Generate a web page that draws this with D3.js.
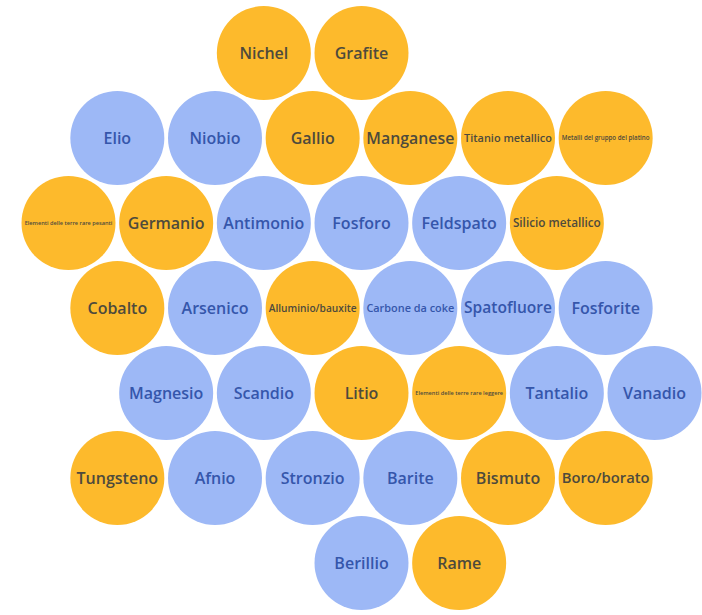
<!DOCTYPE html>
<html>
<head>
<meta charset="utf-8">
<script src="https://cdn.jsdelivr.net/npm/d3@7"></script>
<style>
  html, body { margin: 0; padding: 0; background: #fff; }
  text { font-family: "Open Sans", "Noto Sans", sans-serif; font-weight: 600; }
</style>
</head>
<body>
<div id="chart"></div>
<script>
// materials, their group and their cell in the honeycomb (row, half-column)
var materials = [
  "Nichel", "Grafite",
  "Elio", "Niobio", "Gallio", "Manganese", "Titanio metallico", "Metalli del gruppo del platino",
  "Elementi delle terre rare pesanti", "Germanio", "Antimonio", "Fosforo", "Feldspato", "Silicio metallico",
  "Cobalto", "Arsenico", "Alluminio/bauxite", "Carbone da coke", "Spatofluore", "Fosforite",
  "Magnesio", "Scandio", "Litio", "Elementi delle terre rare leggere", "Tantalio", "Vanadio",
  "Tungsteno", "Afnio", "Stronzio", "Barite", "Bismuto", "Boro/borato",
  "Berillio", "Rame"
];
var groups = [
  "S", "S",
  "C", "C", "S", "S", "S", "S",
  "S", "S", "C", "C", "C", "S",
  "S", "C", "S", "C", "C", "C",
  "C", "C", "S", "S", "C", "C",
  "S", "C", "C", "C", "S", "S",
  "C", "S"
];
var rows = [
  0, 0,
  1, 1, 1, 1, 1, 1,
  2, 2, 2, 2, 2, 2,
  3, 3, 3, 3, 3, 3,
  4, 4, 4, 4, 4, 4,
  5, 5, 5, 5, 5, 5,
  6, 6
];
var cols = [
  4, 6,
  1, 3, 5, 7, 9, 11,
  0, 2, 4, 6, 8, 10,
  1, 3, 5, 7, 9, 11,
  2, 4, 6, 8, 10, 12,
  1, 3, 5, 7, 9, 11,
  6, 8
];

var data = materials.map(function (m, i) {
  return { name: m, group: groups[i], row: rows[i], col: cols[i] };
});

var w = 702, h = 615;
var r = 47;

var svg = d3.select("#chart").append("svg")
  .attr("width", w)
  .attr("height", h);

var xScale = d3.scaleLinear().domain([0, 12]).range([68.5, 654.5]);
var yScale = d3.scaleLinear().domain([0, 6]).range([53, 563]);

var fill = d3.scaleOrdinal().domain(["S", "C"]).range(["#fdba2c", "#9db8f6"]);
var ink = d3.scaleOrdinal().domain(["S", "C"]).range(["#4e4a3c", "#3556ab"]);

var cell = svg.selectAll("g.cell")
  .data(data)
  .enter()
  .append("g")
  .attr("class", "cell")
  .attr("transform", function (d) { return "translate(" + xScale(d.col) + "," + yScale(d.row) + ")"; });

cell.append("circle")
  .attr("r", r)
  .attr("fill", function (d) { return fill(d.group); });

cell.append("text")
  .attr("text-anchor", "middle")
  .attr("dy", "0.35em")
  .attr("fill", function (d) { return ink(d.group); })
  .style("font-size", "16px")
  .text(function (d) { return d.name; })
  .each(function () {
    // shrink long names so they fit inside the circle
    var len = this.getComputedTextLength();
    var maxW = 88;
    if (len > maxW) {
      d3.select(this).style("font-size", (16 * maxW / len) + "px");
    }
  });
</script>
</body>
</html>
